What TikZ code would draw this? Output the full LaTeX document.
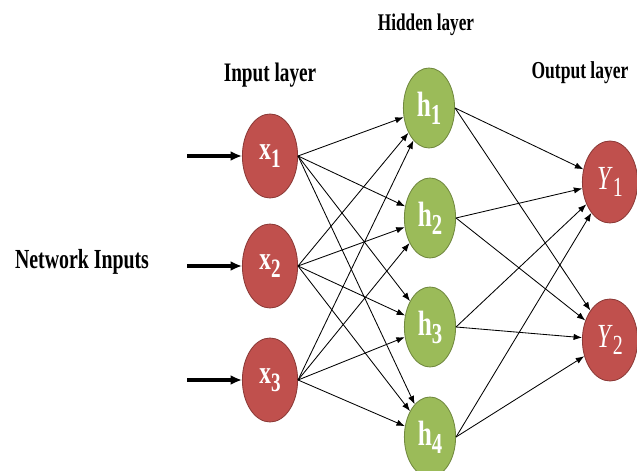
\documentclass[tikz,border=0pt]{standalone}
\usepackage{fontspec}
\setmainfont{Liberation Serif}[FakeStretch=0.72]
\usetikzlibrary{arrows.meta,shapes.geometric}

\definecolor{nodered}{HTML}{C0504D}
\definecolor{nodereddark}{HTML}{8C3A37}
\definecolor{nodegreen}{HTML}{9BBB59}
\definecolor{nodegreendark}{HTML}{71893F}

\newcommand{\lowidx}[1]{\raisebox{-0.5ex}{\scalebox{0.82}{#1}}}

\tikzset{
  inunit/.style={ellipse, draw=nodereddark, fill=nodered, line width=0.6pt,
    minimum width=1.38cm, minimum height=2.1cm, inner sep=0pt, text=white,
    font=\bfseries\fontsize{23}{26}\selectfont},
  hidunit/.style={ellipse, draw=nodegreendark, fill=nodegreen, line width=0.6pt,
    minimum width=1.28cm, minimum height=2.0cm, inner sep=0pt, text=white,
    font=\bfseries\fontsize{25}{28}\selectfont},
  outunit/.style={ellipse, draw=nodereddark, fill=nodered, line width=0.6pt,
    minimum width=1.38cm, minimum height=2.05cm, inner sep=0pt, text=white,
    font=\fontsize{24}{28}\selectfont},
  layertitle/.style={font=\bfseries\fontsize{19}{22}\selectfont},
  link/.style={-{Latex[length=6pt,width=4.5pt]}, line width=0.6pt},
  feed/.style={-{Latex[length=8pt,width=7pt]}, line width=2.2pt}
}

\begin{document}
\begin{tikzpicture}[x=0.025cm, y=-0.025cm]

\useasboundingbox (0,0) rectangle (637,471);

%% titles
\node[layertitle] (tin)  at (270,75)  {Input layer};
\node[layertitle, font=\bfseries\fontsize{17}{20}\selectfont] (thid) at (426,25) {Hidden layer};
\node[layertitle, font=\bfseries\fontsize{17.3}{20}\selectfont] (tout) at (580,73) {Output layer};
\node[layertitle, font=\bfseries\fontsize{19.6}{22}\selectfont] (tnet) at (82,262)  {Network Inputs};

%% input units
\node[inunit] (x1) at (270,156) {x\lowidx{1}};   %% x1
\node[inunit] (x2) at (270,266) {x\lowidx{2}};   %% x2
\node[inunit] (x3) at (270,380) {x\lowidx{3}};   %% x3

%% hidden units
\node[hidunit] (h1) at (429,108) {h\lowidx{1}};  %% h1
\node[hidunit] (h2) at (430,218) {h\lowidx{2}};  %% h2
\node[hidunit] (h3) at (430,327) {h\lowidx{3}};  %% h3
\node[hidunit] (h4) at (430,437) {h\lowidx{4}};  %% h4

%% output units
\node[outunit] (y1) at (610,182) {\textit{Y}\lowidx{1}};  %% Y1
\node[outunit] (y2) at (610,340) {\textit{Y}\lowidx{2}};  %% Y2

%% free ends of the feeding arrows
\coordinate (f1) at (187,156);
\coordinate (f2) at (187,266);
\coordinate (f3) at (187,380);

%%% feeding arrows
\draw[feed] (f1) -- (x1.west);
\draw[feed] (f2) -- (x2.west);
\draw[feed] (f3) -- (x3.west);

%%% input -> hidden
\draw[link] (x1.east) -- (h1);     %% x1 h1
\draw[link] (x1.east) -- (h2);     %% x1 h2
\draw[link] (x1.east) -- (h3);     %% x1 h3
\draw[link] (x1.east) -- (h4);     %% x1 h4
\draw[link] (x2.east) -- (h1);     %% x2 h1
\draw[link] (x2.east) -- (h2);     %% x2 h2
\draw[link] (x2.east) -- (h3);     %% x2 h3
\draw[link] (x2.east) -- (h4);     %% x2 h4
\draw[link] (x3.east) -- (h1);     %% x3 h1
\draw[link] (x3.east) -- (h2);     %% x3 h2
\draw[link] (x3.east) -- (h3);     %% x3 h3
\draw[link] (x3.east) -- (h4);     %% x3 h4

%%% hidden -> output
\draw[link] (h1.east) -- (y1);     %% h1 Y1
\draw[link] (h1.east) -- (y2);     %% h1 Y2
\draw[link] (h2.east) -- (y1);     %% h2 Y1
\draw[link] (h2.east) -- (y2);     %% h2 Y2
\draw[link] (h3.east) -- (y1);     %% h3 Y1
\draw[link] (h3.east) -- (y2);     %% h3 Y2
\draw[link] (h4.east) -- (y1);     %% h4 Y1
\draw[link] (h4.east) -- (y2);     %% h4 Y2
\end{tikzpicture}
\end{document}
